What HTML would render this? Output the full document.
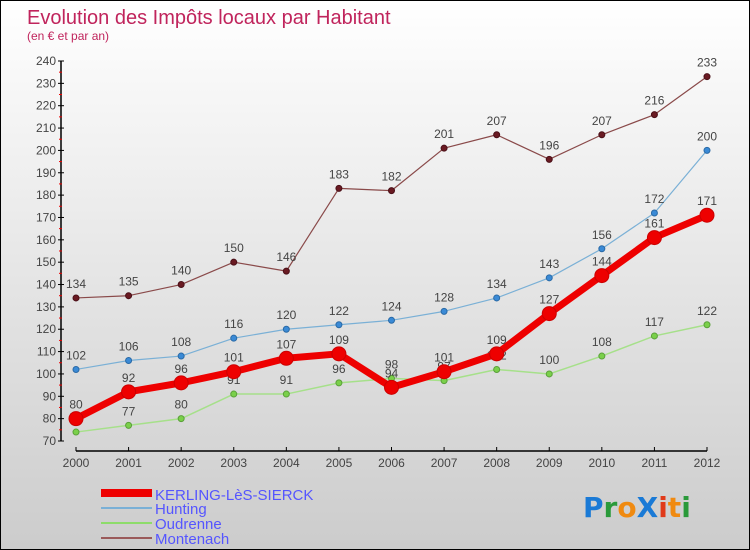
<!DOCTYPE html>
<html><head><meta charset="utf-8"><style>
body{margin:0;}
#c{width:748px;height:548px;border:1px solid #000;background:linear-gradient(#fff,#ccc);position:relative;font-family:"Liberation Sans",sans-serif;overflow:hidden}
</style></head><body>
<div id="c">
<svg id="s" width="748" height="548">
<text x="26" y="23" font-size="20" fill="#c0245c">Evolution des Impôts locaux par Habitant</text>
<text x="26" y="39" font-size="12" fill="#c0245c">(en € et par an)</text>
<g id="axes"></g><g id="series"></g>
<g>
<rect x="100" y="488" width="51" height="8" fill="#e00"/>
<text x="154" y="499" font-size="15" fill="#55f">KERLING-LèS-SIERCK</text>
<line x1="100" y1="507" x2="151" y2="507" stroke="#7ab0d6" stroke-width="2"/>
<text x="154" y="513" font-size="15" fill="#55f">Hunting</text>
<line x1="100" y1="522" x2="151" y2="522" stroke="#8ddc6a" stroke-width="2"/>
<text x="154" y="528" font-size="15" fill="#55f">Oudrenne</text>
<line x1="100" y1="537" x2="151" y2="537" stroke="#9a5a5a" stroke-width="2"/>
<text x="154" y="543" font-size="15" fill="#55f">Montenach</text>
</g>
<text x="582" y="516" font-size="28" font-weight="bold" font-family="DejaVu Sans"><tspan fill="#1a7ad6">P</tspan><tspan fill="#2a9a3a">r</tspan><tspan fill="#f08a10">o</tspan><tspan fill="#1a7ad6">X</tspan><tspan fill="#e03a1a">i</tspan><tspan fill="#f08a10">t</tspan><tspan fill="#2a9a3a">i</tspan></text>
</svg></div>
<script>
const years=[2000,2001,2002,2003,2004,2005,2006,2007,2008,2009,2010,2011,2012];
const kerling=[80,92,96,101,107,109,94,101,109,127,144,161,171];
const hunting=[102,106,108,116,120,122,124,128,134,143,156,172,200];
const oudrenne=[74,77,80,91,91,96,98,97,102,100,108,117,122];
const montenach=[134,135,140,150,146,183,182,201,207,196,207,216,233];
const yTicks=[70,80,90,100,110,120,130,140,150,160,170,180,190,200,210,220,230,240];
const NS="http://www.w3.org/2000/svg";
const xs=i=>75+i*(706-75)/12;
const ys=v=>440-(v-70)*(380/170);
function mk(t,a,p){const e=document.createElementNS(NS,t);for(const k in a)e.setAttribute(k,a[k]);p.appendChild(e);return e;}
const ax=document.getElementById('axes');
let yl=mk('line',{x1:60,y1:60,x2:60,y2:440,stroke:'#000','stroke-width':1.5},ax);


let xl=mk('line',{x1:75,y1:450,x2:706,y2:450,stroke:'#000','stroke-width':1.5},ax);


yTicks.forEach(v=>{const y=ys(v);
 mk('line',{x1:57,y1:y,x2:63,y2:y,stroke:'#000'},ax);
 if(v<240)mk('line',{x1:58,y1:y-11.2,x2:61,y2:y-11.2,stroke:'#e00'},ax);
 const t=mk('text',{x:55,y:y+4,'font-size':12,'text-anchor':'end',fill:'#444'},ax);t.textContent=v;
 
 
});
years.forEach((yr,i)=>{const x=xs(i);
 mk('line',{x1:x,y1:446,x2:x,y2:450,stroke:'#000'},ax);
 const t=mk('text',{x:x,y:466,'font-size':12,'text-anchor':'middle',fill:'#444'},ax);t.textContent=yr;
 
 
});
const sg=document.getElementById('series');
function series(d,col,w,r,name,fill,stroke){
 const g=mk('g',{},sg);
 
 
 const pl=mk('polyline',{points:d.map((v,i)=>xs(i)+','+ys(v)).join(' '),fill:'none',stroke:col,'stroke-width':w,'stroke-linejoin':'round'},g);
 
 
 d.forEach((v,i)=>{const c=mk('circle',{cx:xs(i),cy:ys(v),r:r,fill:fill,stroke:stroke,'stroke-width':1},g);
  
  
  const t=mk('text',{x:xs(i),y:ys(v)-10,'font-size':12,'text-anchor':'middle',fill:'#444'},g);t.textContent=v;
  
  
 });
}
series(montenach,'#8a4a4a',1.2,3,'montenach','#6a1a22','#4a1018');
series(hunting,'#7ab0d6',1.2,3,'hunting','#3a8ad6','#2a6aa6');
series(oudrenne,'#a6e08a',1.5,3,'oudrenne','#7ad04a','#5aa03a');
series(kerling,'#ee0000',7,7,'kerling','#e00','#c00');
</script>
</body></html>
